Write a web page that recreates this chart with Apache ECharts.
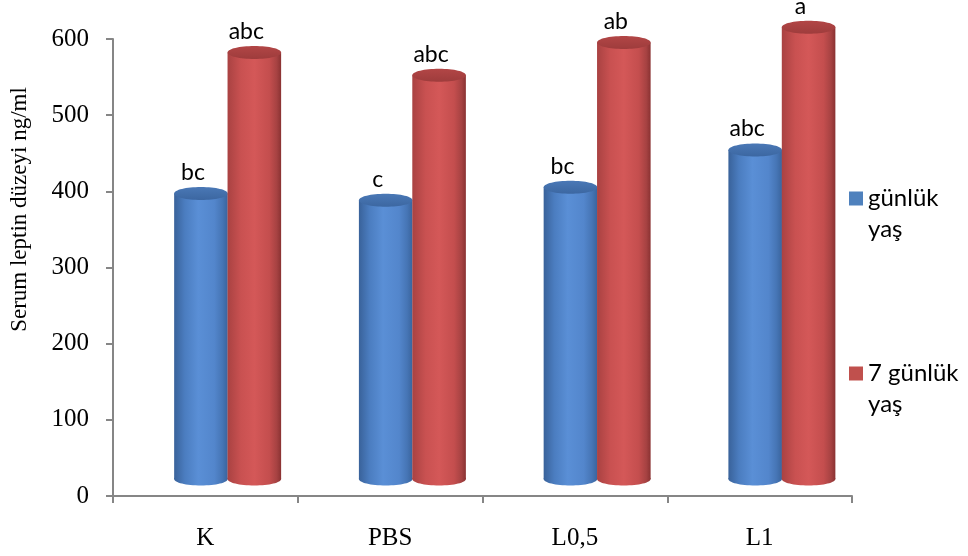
<!DOCTYPE html>
<html>
<head>
<meta charset="utf-8">
<script src="https://cdn.jsdelivr.net/npm/echarts@6/dist/echarts.min.js"></script>
<style>
html,body{margin:0;padding:0;background:#fff;}
#chart{width:968px;height:556px;}
</style>
</head>
<body>
<div id="chart"></div>
<script>
// ---- data ----
const categories = ['K', 'PBS', 'L0,5', 'L1'];
const seriesNames = ['günlük yaş', '7 günlük yaş'];
const day1Values = [375, 366, 383, 432];
const day7Values = [560, 530, 573, 593];
const day1Letters = ['bc', 'c', 'bc', 'abc'];
const day7Letters = ['abc', 'abc', 'ab', 'a'];
const yTicks = [0, 100, 200, 300, 400, 500, 600];
const yTitle = 'Serum leptin düzeyi ng/ml';

// ---- styling (not data) ----
const DEPTH = 17;       // 3D depth shift of the cylinders
const RY = 6.5;         // ellipse half-height
const WIDTH_FR = 0.29;  // cylinder width as fraction of category band
const OFFSETS = [-0.024, 0.265];
const palettes = [
  {
    legend: '#4f81bd',
    body: [[0, '#39629a'], [0.2, '#4b7dc0'], [0.45, '#5a8fd6'], [0.75, '#5386cc'], [0.9, '#4675b5'], [1, '#3a649d']],
    top: [[0, '#4a78b6'], [1, '#3c67a1']]
  },
  {
    legend: '#c0504d',
    body: [[0, '#a94242'], [0.25, '#c95151'], [0.5, '#d45858'], [0.78, '#c44e4e'], [0.92, '#a64242'], [1, '#8a3232']],
    top: [[0, '#b24646'], [1, '#9e3c3c']]
  }
];

function stops(arr) { return arr.map(s => ({ offset: s[0], color: s[1] })); }

function makeRender(idx, letters) {
  const pal = palettes[idx];
  return function (params, api) {
    const ci = api.value(0);
    const v = api.value(1);
    const top = api.coord([ci, v]);
    const base = api.coord([ci, 0]);
    const band = api.size([1, 0])[0];
    const w = band * WIDTH_FR;
    const cx = top[0] + band * OFFSETS[idx];
    const yTop = top[1] - DEPTH;
    const yBot = base[1] - DEPTH;
    const bodyFill = new echarts.graphic.LinearGradient(0, 0, 1, 0, stops(pal.body));
    const topFill = new echarts.graphic.LinearGradient(0, 0, 0, 1, stops(pal.top));
    return {
      type: 'group',
      children: [
        { type: 'ellipse', shape: { cx: cx, cy: yBot, rx: w / 2, ry: RY }, style: { fill: bodyFill } },
        { type: 'rect', shape: { x: cx - w / 2, y: yTop, width: w, height: yBot - yTop }, style: { fill: bodyFill } },
        { type: 'ellipse', shape: { cx: cx, cy: yTop, rx: w / 2, ry: RY }, style: { fill: topFill } },
        {
          type: 'text',
          style: {
            text: letters[params.dataIndex],
            x: cx - 8, y: yTop - 21,
            align: 'center', verticalAlign: 'middle',
            font: '23px Lato', fill: '#000'
          }
        }
      ]
    };
  };
}

const chart = echarts.init(document.getElementById('chart'), null, { renderer: 'canvas' });
chart.setOption({
  animation: false,
  backgroundColor: '#fff',
  grid: { left: 110, right: 116, top: 39, bottom: 60 },
  legend: {
    orient: 'vertical',
    left: 849,
    top: 152,
    padding: 0,
    itemWidth: 14,
    itemHeight: 14,
    itemGap: 82,
    icon: 'rect',
    selectedMode: false,
    data: seriesNames,
    formatter: n => '\n' + n.replace(/ (yaş)$/, '\n$1'),
    textStyle: { fontFamily: 'Lato', fontSize: 24, color: '#000', lineHeight: 31 }
  },
  xAxis: {
    type: 'category',
    data: categories,
    boundaryGap: true,
    axisLine: { show: true, lineStyle: { color: '#868686', width: 2 } },
    axisTick: { show: true, length: 7, lineStyle: { color: '#868686', width: 2 } },
    axisLabel: { fontFamily: 'Liberation Serif', fontSize: 25, color: '#000', margin: 30 },
    splitLine: { show: false }
  },
  yAxis: {
    type: 'value',
    min: yTicks[0],
    max: yTicks[yTicks.length - 1],
    interval: yTicks[1] - yTicks[0],
    name: yTitle,
    nameLocation: 'middle',
    nameGap: 82,
    nameRotate: 90,
    nameTextStyle: { fontFamily: 'Liberation Serif', fontSize: 23, color: '#000', padding: [0, 0, 0, 116] },
    axisLine: { show: true, lineStyle: { color: '#868686', width: 2 } },
    axisTick: { show: true, length: 7, lineStyle: { color: '#868686', width: 2 } },
    axisLabel: { fontFamily: 'Liberation Serif', fontSize: 25, color: '#000', margin: 24 },
    splitLine: { show: false }
  },
  series: [
    {
      name: seriesNames[0], type: 'custom',
      itemStyle: { color: palettes[0].legend },
      renderItem: makeRender(0, day1Letters),
      encode: { x: 0, y: 1 },
      data: day1Values.map((v, i) => [i, v])
    },
    {
      name: seriesNames[1], type: 'custom',
      itemStyle: { color: palettes[1].legend },
      renderItem: makeRender(1, day7Letters),
      encode: { x: 0, y: 1 },
      data: day7Values.map((v, i) => [i, v])
    }
  ]
});
</script>
</body>
</html>
